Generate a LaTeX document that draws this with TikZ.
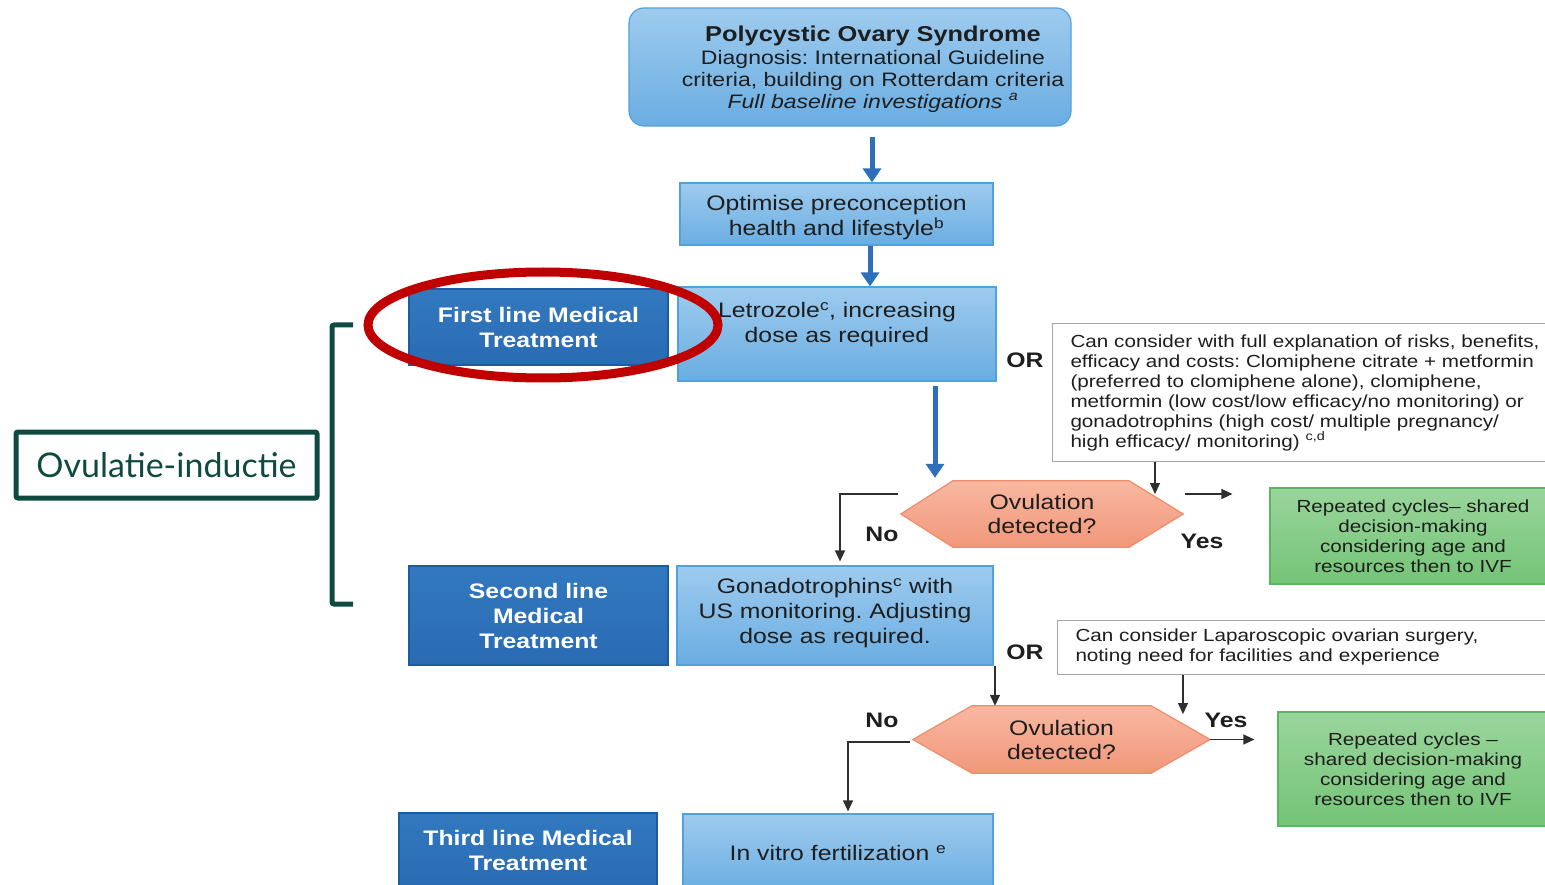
\documentclass[tikz,border=0pt]{standalone}
\usepackage{fontspec}
\setmainfont{Liberation Sans}[FakeStretch=1.18]
\newfontfamily\labelfont{Lato}
\usetikzlibrary{arrows.meta,calc,shapes.geometric}
\frenchspacing

\definecolor{lbA}{HTML}{9ECBEE}
\definecolor{lbB}{HTML}{6AADE2}
\definecolor{lbedge}{HTML}{4FA2DC}
\definecolor{dbA}{HTML}{3279C0}
\definecolor{dbB}{HTML}{2A6BB2}
\definecolor{dbedge}{HTML}{1E5CA2}
\definecolor{arrowblue}{HTML}{2E6FBA}
\definecolor{sA}{HTML}{F8B8A1}
\definecolor{sB}{HTML}{F1977A}
\definecolor{sedge}{HTML}{EF8C69}
\definecolor{gA}{HTML}{9AD59C}
\definecolor{gB}{HTML}{74C477}
\definecolor{gedge}{HTML}{5BB75F}
\definecolor{ringred}{HTML}{C00000}
\definecolor{deepgreen}{HTML}{0E4A40}
\definecolor{txt}{HTML}{1E1E1E}
\definecolor{flowgray}{HTML}{2E2E2E}
\definecolor{noteedge}{HTML}{A6A6A6}

\pgfdeclarelayer{background}
\pgfsetlayers{background,main}

\begin{document}
\begin{tikzpicture}[x=1pt,y=-1pt,
  lightbox/.style={draw=lbedge, line width=1.2pt, top color=lbA, bottom color=lbB,
    inner sep=0pt, text=txt, align=center, font=\fontsize{21}{25}\selectfont},
  darkbox/.style={draw=dbedge, line width=1.2pt, top color=dbA, bottom color=dbB,
    inner sep=0pt, text=white, align=center, font=\bfseries\fontsize{21}{25}\selectfont},
  notebox/.style={draw=noteedge, line width=1pt, fill=white, text=txt, align=left,
    inner xsep=18pt, inner ysep=0pt, text width=474pt, anchor=west,
    font=\fontsize{17.5}{20}\selectfont},
  greenbox/.style={draw=gedge, line width=1.2pt, top color=gA, bottom color=gB,
    inner sep=0pt, text=txt, align=center, font=\fontsize{17.5}{20}\selectfont},
  hexfield/.style={inner sep=0pt, text=txt, align=center, font=\fontsize{21}{24}\selectfont},
  hexfill/.style={draw=sedge, line width=1.2pt, top color=sA, bottom color=sB},
  tag/.style={font=\bfseries\fontsize{21}{24}\selectfont, text=txt},
  flow/.style={draw=flowgray, line width=1.4pt, -{Triangle[length=11pt,width=10pt]}},
  bigflow/.style={draw=arrowblue, line width=5pt, -{Triangle[length=14pt,width=18pt]}},
]
\useasboundingbox (0,0) rectangle (1545,885);
\clip (0,0) rectangle (1545,885);

% ---------- main column ----------
\node[lightbox, rounded corners=15pt, minimum width=442pt, minimum height=118pt] (pcos)
  at (850,67) {};
\node[text=txt, align=center, inner sep=0pt, font=\fontsize{19.5}{22}\selectfont]
  (pcostext) at (873,69)
  {{\bfseries\fontsize{21.5}{24}\selectfont Polycystic Ovary Syndrome}\\[1pt]
   Diagnosis: International Guideline\\
   criteria, building on Rotterdam criteria\\
   \textit{Full baseline investigations \textsuperscript{a}}};

\node[lightbox, minimum width=313pt, minimum height=62pt] (opt) at (836.5,214)
  {\rule{0pt}{23pt}Optimise preconception\\health and lifestyle\textsuperscript{b}};

\node[lightbox, minimum width=318pt, minimum height=94pt] (letro) at (837,334)
  {Letrozole\textsuperscript{c}, increasing\\dose as required\\[-2pt]};

\node[lightbox, minimum width=316pt, minimum height=99pt] (gon) at (835,615.5)
  {Gonadotrophins\textsuperscript{c} with\\US monitoring. Adjusting\\dose as required.\\[-16pt]};

\node[lightbox, minimum width=310pt, minimum height=78pt] (ivf) at (838,853)
  {In vitro fertilization \textsuperscript{e}};

% ---------- treatment line labels ----------
\node[darkbox, minimum width=259pt, minimum height=76pt] (first) at (538.5,327)
  {First line Medical\\Treatment};
\node[darkbox, minimum width=259pt, minimum height=99pt] (second) at (538.5,615.5)
  {Second line\\Medical\\Treatment};
\node[darkbox, minimum width=258pt, minimum height=75pt] (third) at (528,850.5)
  {Third line Medical\\Treatment};

% ---------- alternatives ----------
\node[notebox, minimum height=137pt] (alt1) at (1052,392.5)
  {Can consider with full explanation of risks, benefits,\\
   efficacy and costs: Clomiphene citrate + metformin\\
   (preferred to clomiphene alone), clomiphene,\\
   metformin (low cost/low efficacy/no monitoring) or\\
   gonadotrophins (high cost/ multiple pregnancy/\\
   high efficacy/ monitoring) \textsuperscript{c,d}};
\node[notebox, minimum height=54pt] (alt2) at (1057,647)
  {Can consider Laparoscopic ovarian surgery,\\
   noting need for facilities and experience};

% ---------- outcomes ----------
\node[greenbox, minimum width=286pt, minimum height=96pt] (rep1) at (1413,536)
  {Repeated cycles-- shared\\decision-making\\considering age and\\resources then to IVF};
\node[greenbox, minimum width=270pt, minimum height=114pt] (rep2) at (1413,769)
  {Repeated cycles --\\shared decision-making\\considering age and\\resources then to IVF};

% ---------- decisions ----------
\node[hexfield, minimum width=282pt, minimum height=66pt] (hex1) at (1042,514)
  {Ovulation\\detected?};
\node[hexfield, minimum width=297pt, minimum height=67pt] (hex2) at (1061.5,739.5)
  {Ovulation\\detected?};
\begin{pgfonlayer}{background}
  \path[hexfill] (hex1.west) -- ($(hex1.north west)+(52,0)$) -- ($(hex1.north east)+(-54,0)$)
    -- (hex1.east) -- ($(hex1.south east)+(-54,0)$) -- ($(hex1.south west)+(52,0)$) -- cycle;
  \path[hexfill] (hex2.west) -- ($(hex2.north west)+(59,0)$) -- ($(hex2.north east)+(-59,0)$)
    -- (hex2.east) -- ($(hex2.south east)+(-59,0)$) -- ($(hex2.south west)+(59,0)$) -- cycle;
\end{pgfonlayer}

% ---------- labels ----------
\node[tag] (or1) at (1025,360) {OR};
\node[tag] (or2) at (1025,652) {OR};
\node[tag] (no1) at (882,534) {No};
\node[tag] (yes1) at (1202,541) {Yes};
\node[tag] (no2) at (882,720) {No};
\node[tag] (yes2) at (1226,720) {Yes};

% ---------- connectors ----------
\draw[bigflow] ($(pcos.south)+(22,10)$) -- ($(opt.north)+(35.5,0)$);
\draw[bigflow] ($(opt.south)+(33.5,0)$) -- ($(letro.north)+(33,0)$);
\draw[bigflow] ($(letro.south)+(98,4)$) -- ($(hex1.north)+(-107,-3)$);

\draw[flow] ($(alt1.south west)+(103,0)$) -- ($(hex1.center)+(113,-20)$);
\draw[flow] ($(hex1.center)+(143,-20)$) -- ($(rep1.west)+(-37,-42)$);
\draw[flow] ($(hex1.west)+(-3,-20)$) -| ($(gon.north)+(5,-4)$);

\draw[flow] ($(gon.south)+(160,0)$) -- ($(hex2.north)+(-66.5,0)$);
\draw[flow] ($(alt2.south west)+(126,0)$) -- ($(hex2.center)+(121.5,-25.5)$);
\draw[flow] (hex2.east) -- ($(rep2.west)+(-23,-29.5)$);
\draw[flow] ($(hex2.west)+(-3,2.5)$) -| ($(ivf.north)+(10,-2)$);

% ---------- annotation ----------
\node[draw=ringred, line width=9pt, ellipse, minimum width=350pt, minimum height=106pt]
  (ring) at (543,325) {};

\node[draw=deepgreen, line width=5pt, rounded corners=2pt, minimum width=301pt,
      minimum height=66pt, text=deepgreen, font=\labelfont\fontsize{34}{38}\selectfont]
  (ovi) at (166.5,465) {Ovulatie-inductie};
\draw[deepgreen, line width=5pt, rounded corners=2pt]
  (353,325) -- (332,325) -- (332,604) -- (353,604);

\end{tikzpicture}
\end{document}
